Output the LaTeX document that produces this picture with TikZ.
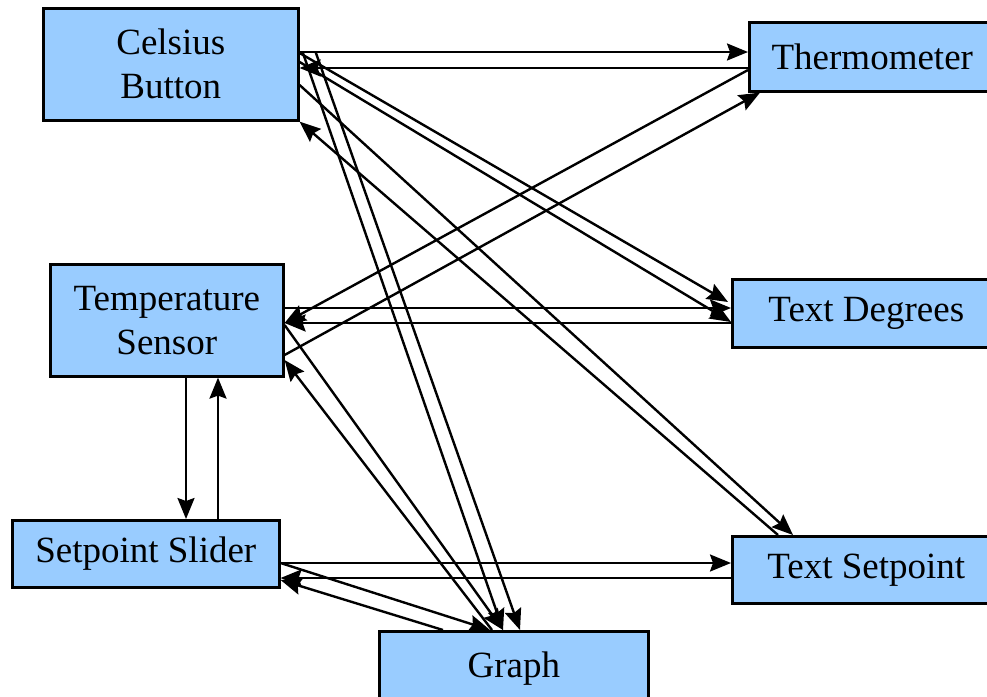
\documentclass[tikz,border=0pt]{standalone}
\usepackage{fontspec}
\setmainfont{Liberation Serif}
\usetikzlibrary{arrows.meta}

\definecolor{boxblue}{RGB}{153,204,255}

\begin{document}
\begin{tikzpicture}[x=1pt,y=-1pt,
        box/.style={draw, line width=2.6pt, fill=boxblue, anchor=north west,
            inner sep=0pt, align=center, font=\fontsize{37}{44}\selectfont},
        link/.style={line width=2.4pt, -{Stealth[length=21pt,width=17pt,inset=3pt]}}]
        \useasboundingbox (0,0) rectangle (987,696);

        \node[box, minimum width=255pt, minimum height=112pt] (cb) at (42,7) {Celsius\\Button};
        \node[box, minimum width=246pt, minimum height=69pt] (th) at (748,21) {Thermometer};
        \node[box, minimum width=233pt, minimum height=112pt] (ts) at (49,263) {Temperature\\Sensor};
        \node[box, minimum width=268pt, minimum height=68pt] (td) at (731,278) {Text Degrees};
        \node[box, minimum width=267pt, minimum height=67pt] (ss) at (11,519) {Setpoint Slider};
        \node[box, minimum width=268pt, minimum height=67pt] (tsp) at (731,535) {Text Setpoint};
        \node[box, minimum width=269pt, minimum height=74pt] (gr) at (378,630) {Graph};

        % Celsius Button
        \draw[link] ([yshift=-45pt]cb.north east) -- ([yshift=-31pt]th.north west);
        \draw[link] ([yshift=-47pt]th.north west) -- ([yshift=-61pt]cb.north east);
        \draw[link] ([yshift=-46pt]cb.north east) -- ([xshift=-3pt,yshift=-24pt]td.north west);
        \draw[link] ([yshift=-55pt]cb.north east) -- ([yshift=-44pt]td.north west);
        \draw[link] ([yshift=-78pt]cb.north east) -- ([xshift=62pt]tsp.north west);
        \draw[link] ([xshift=47pt]tsp.north west) -- (cb.south east);
        \draw[link] ([xshift=3pt,yshift=-45pt]cb.north east) -- ([xshift=125pt]gr.north west);
        \draw[link] ([xshift=16pt,yshift=-45pt]cb.north east) -- ([xshift=142pt]gr.north west);

        % Temperature Sensor
        \draw[link] ([yshift=-49pt]th.north west) -- ([yshift=-60pt]ts.north east);
        \draw[link] ([yshift=-92pt]ts.north east) -- ([xshift=12pt]th.south west);
        \draw[link] ([yshift=-45pt]ts.north east) -- ([yshift=-30pt]td.north west);
        \draw[link] ([yshift=-45pt]td.north west) -- ([yshift=-60pt]ts.north east);
        \draw[link] ([yshift=-62pt]ts.north east) -- ([xshift=125pt]gr.north west);
        \draw[link] ([xshift=114pt]gr.north west) -- ([yshift=-97pt]ts.north east);
        \draw[link] ([xshift=137pt]ts.south west) -- ([xshift=175pt]ss.north west);
        \draw[link] ([xshift=207pt]ss.north west) -- ([xshift=169pt]ts.south west);

        % Setpoint Slider
        \draw[link] ([yshift=-44pt]ss.north east) -- ([yshift=-28pt]tsp.north west);
        \draw[link] ([yshift=-43pt]tsp.north west) -- ([yshift=-59pt]ss.north east);
        \draw[link] ([yshift=-44pt]ss.north east) -- ([xshift=112pt]gr.north west);
        \draw[link] ([xshift=65pt]gr.north west) -- ([yshift=-61pt]ss.north east);
    \end{tikzpicture}
\end{document}
